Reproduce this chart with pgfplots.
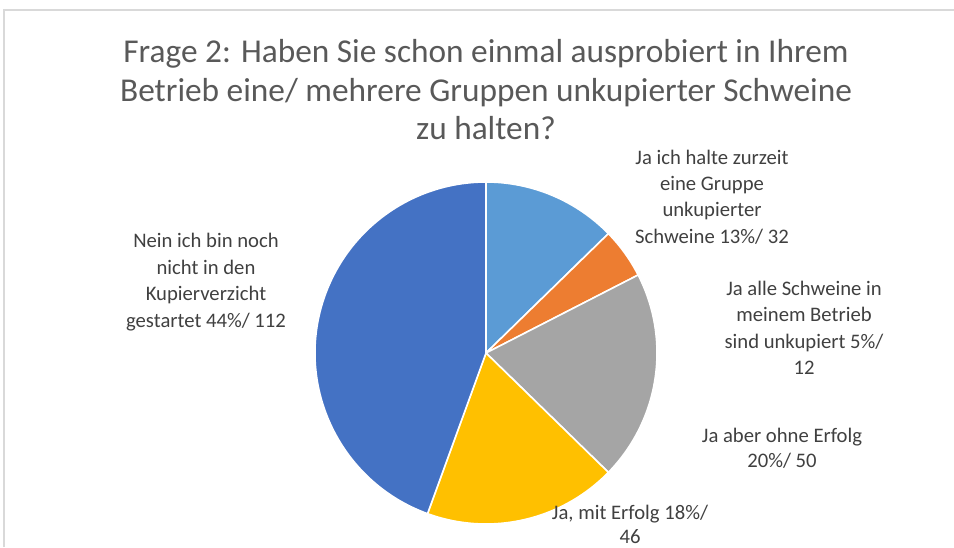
\documentclass[border=0pt]{standalone}
\usepackage{pgfplots}
\usepackage{pgfplotstable}
\pgfplotsset{compat=1.18}
\usepackage{fontspec}
\setmainfont{Carlito}
\definecolor{pieC0}{HTML}{5B9BD5}
\definecolor{pieC1}{HTML}{ED7D31}
\definecolor{pieC2}{HTML}{A5A5A5}
\definecolor{pieC3}{HTML}{FFC000}
\definecolor{pieC4}{HTML}{4472C4}
\definecolor{titlegray}{HTML}{595959}
\definecolor{labelgray}{HTML}{404040}
\definecolor{framegray}{HTML}{D9D9D9}

\pgfplotstableread{
label value
A 32
B 12
C 50
D 46
E 112
}\piedata

\begin{document}
\begin{tikzpicture}
% cumulative angles from the data (start at 12 o'clock, clockwise)
\xdef\pietotal{0}
\foreach \i in {0,...,4}{%
  \pgfplotstablegetelem{\i}{value}\of\piedata
  \pgfmathsetmacro\tmp{\pietotal+\pgfplotsretval}%
  \xdef\pietotal{\tmp}}
\xdef\cum{0}
\foreach \i in {0,...,4}{%
  \pgfplotstablegetelem{\i}{value}\of\piedata
  \pgfmathsetmacro\sa{90-360*(\cum/\pietotal)}%
  \pgfmathsetmacro\newcum{\cum+\pgfplotsretval}%
  \pgfmathsetmacro\ea{90-360*(\newcum/\pietotal)}%
  \expandafter\xdef\csname pieS\i\endcsname{\sa}%
  \expandafter\xdef\csname pieE\i\endcsname{\ea}%
  \xdef\cum{\newcum}}
\begin{axis}[
  scale only axis, width=715.5pt, height=410.25pt,
  xmin=0, xmax=954, ymin=0, ymax=547,
  hide axis, clip=false]
  % frame
  \draw[framegray, line width=1.5pt] (axis cs:4,0) -- (axis cs:4,537) -- (axis cs:954,537);
  % slices
  \pgfplotsinvokeforeach{0,...,4}{
    \filldraw[fill=pieC#1, draw=white, line width=1.2pt, line join=round]
      (axis cs:486,194) -- ++(\csname pieS#1\endcsname:128.25pt)
      arc[start angle=\csname pieS#1\endcsname, end angle=\csname pieE#1\endcsname, radius=128.25pt] -- cycle;
  }
  % title
  \begin{scope}[every node/.style={anchor=base, inner sep=0pt, text=titlegray, font=\fontsize{25}{30}\selectfont}]
  \node at (axis cs:486,484) {Frage 2: Haben Sie schon einmal ausprobiert in Ihrem};
  \node at (axis cs:486,445) {Betrieb eine/ mehrere Gruppen unkupierter Schweine};
  \node at (axis cs:486,407) {zu halten?};
  \end{scope}
  % data labels
  \begin{scope}[every node/.style={anchor=base, inner sep=0pt, text=labelgray, font=\fontsize{15.5}{19}\selectfont}]
  \node at (axis cs:712,382) {Ja ich halte zurzeit};
  \node at (axis cs:712,356) {eine Gruppe};
  \node at (axis cs:712,330) {unkupierter};
  \node at (axis cs:712,303) {Schweine 13\%/ 32};
  \node at (axis cs:804,251) {Ja alle Schweine in};
  \node at (axis cs:804,225) {meinem Betrieb};
  \node at (axis cs:804,198) {sind unkupiert 5\%/};
  \node at (axis cs:804,172) {12};
  \node at (axis cs:782,105) {Ja aber ohne Erfolg};
  \node at (axis cs:782,80) {20\%/ 50};
  \node at (axis cs:630,28) {Ja, mit Erfolg 18\%/};
  \node at (axis cs:630,4) {46};
  \node at (axis cs:206,299) {Nein ich bin noch};
  \node at (axis cs:206,272) {nicht in den};
  \node at (axis cs:206,246) {Kupierverzicht};
  \node at (axis cs:206,219) {gestartet 44\%/ 112};
  \end{scope}
  \path (axis cs:0,0) rectangle (axis cs:954,547);
\end{axis}
\pgfresetboundingbox
\path (current axis.south west) rectangle (current axis.north east);
\end{tikzpicture}
\end{document}
